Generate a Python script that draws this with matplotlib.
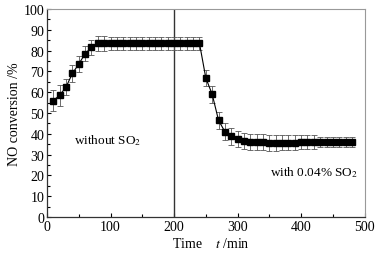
import matplotlib
matplotlib.use("Agg")
import matplotlib.pyplot as plt
from matplotlib.ticker import MultipleLocator

plt.rcParams['font.family'] = ['Liberation Serif', 'DejaVu Serif']
plt.rcParams['mathtext.fontset'] = 'stix'

time_min = [10, 20, 30, 40, 50, 60, 70, 80, 90, 100, 110, 120, 130, 140, 150, 160,
            170, 180, 190, 200, 210, 220, 230, 240, 250, 260, 270, 280, 290, 300,
            310, 320, 330, 340, 350, 360, 370, 380, 390, 400, 410, 420, 430, 440,
            450, 460, 470, 480]
conversion = [56.0, 58.5, 62.5, 69.0, 73.5, 78.5, 81.5, 83.5, 83.5, 83.5, 83.5, 83.5,
              83.5, 83.5, 83.5, 83.5, 83.5, 83.5, 83.5, 83.5, 83.5, 83.5, 83.5, 83.5,
              66.8, 59.0, 46.5, 41.0, 38.8, 37.5, 36.5, 36.0, 36.0, 36.0, 35.5, 35.5,
              35.8, 35.8, 35.8, 36.0, 36.0, 36.0, 36.0, 36.0, 36.0, 36.0, 36.0, 36.0]
error = [5.0, 5.0, 4.0, 4.0, 4.0, 3.5, 3.5, 3.5, 3.5, 3.0, 3.0, 3.0,
         3.0, 3.0, 3.0, 3.0, 3.0, 3.0, 3.0, 3.0, 3.0, 3.0, 3.0, 3.0,
         4.0, 4.0, 4.0, 4.0, 4.0, 4.0, 4.0, 4.0, 4.0, 4.0, 4.0, 4.0,
         3.5, 3.5, 3.5, 3.5, 3.5, 3.5, 2.5, 2.5, 2.5, 2.5, 2.5, 2.5]

fig = plt.figure(figsize=(3.9, 2.55), dpi=100)
ax = fig.add_axes([0.1205, 0.145, 0.8145, 0.816])

ax.errorbar(time_min, conversion, yerr=error, fmt='s-', color='black',
            markersize=4.8, linewidth=0.8, elinewidth=0.6, ecolor='#555555',
            capsize=2.5, capthick=0.6, zorder=3)
ax.axvline(200, color='#333333', linewidth=1.0, zorder=2)

ax.set_xlim(0, 500)
ax.set_ylim(0, 100)
ax.xaxis.set_major_locator(MultipleLocator(100))
ax.xaxis.set_minor_locator(MultipleLocator(50))
ax.yaxis.set_major_locator(MultipleLocator(10))
ax.yaxis.set_minor_locator(MultipleLocator(5))
ax.tick_params(which='both', direction='in', labelsize=10, pad=2)
ax.tick_params(which='major', length=3, width=0.8)
ax.tick_params(which='minor', length=2, width=0.8)
ax.tick_params(axis='x', which='both', top=False)
ax.tick_params(axis='y', which='both', right=False)

for side in ['top', 'right']:
    ax.spines[side].set_color('#999999')
    ax.spines[side].set_linewidth(0.8)
for side in ['left', 'bottom']:
    ax.spines[side].set_color('#333333')
    ax.spines[side].set_linewidth(0.9)

ax.set_ylabel('NO conversion /%', fontsize=10, labelpad=2)
ax.text(0.515, -0.09, 'Time    $\\it{t}$ /min', transform=ax.transAxes,
        fontsize=10, ha='center', va='top')
ax.text(96, 37, 'without SO$_2$', fontsize=9.5, ha='center', va='center')
ax.text(420, 22, 'with 0.04% SO$_2$', fontsize=9.5, ha='center', va='center')

fig.savefig('out.png', dpi=100)
